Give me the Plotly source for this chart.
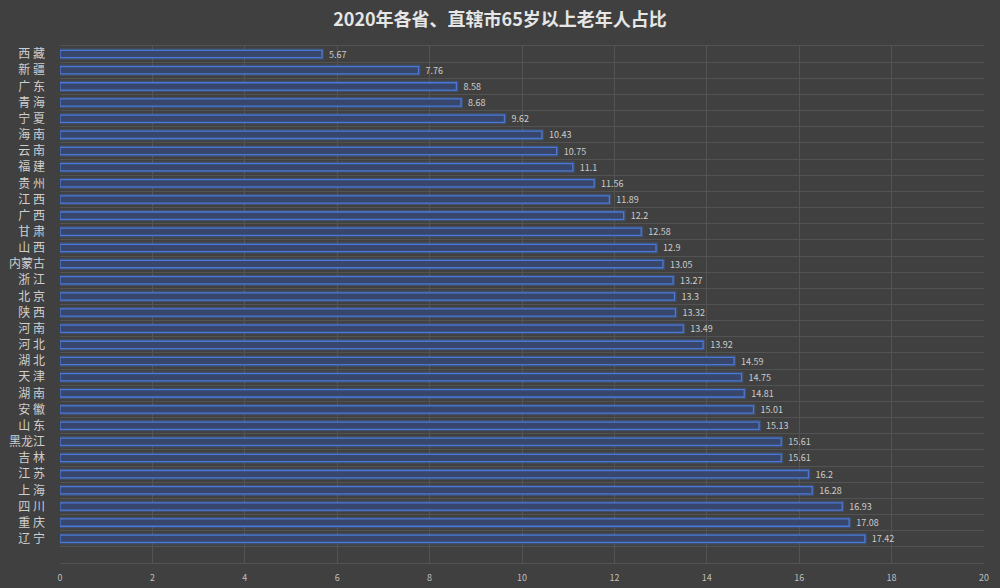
import plotly.graph_objects as go

provinces = [
    "西藏", "新疆", "广东", "青海", "宁夏", "海南", "云南", "福建", "贵州", "江西",
    "广西", "甘肃", "山西", "内蒙古", "浙江", "北京", "陕西", "河南", "河北", "湖北",
    "天津", "湖南", "安徽", "山东", "黑龙江", "吉林", "江苏", "上海", "四川", "重庆", "辽宁",
]
share_65plus = [
    5.67, 7.76, 8.58, 8.68, 9.62, 10.43, 10.75, 11.1, 11.56, 11.89,
    12.2, 12.58, 12.9, 13.05, 13.27, 13.3, 13.32, 13.49, 13.92, 14.59,
    14.75, 14.81, 15.01, 15.13, 15.61, 15.61, 16.2, 16.28, 16.93, 17.08, 17.42,
]
x_ticks = [0, 2, 4, 6, 8, 10, 12, 14, 16, 18, 20]

# two-character names are spread out like in the original
tick_text = [" ".join(p) if len(p) == 2 else p for p in provinces]

font = "Noto Sans CJK SC, Noto Sans, sans-serif"
grid = "#535353"

fig = go.Figure()
# soft glow behind the bars
fig.add_trace(
    go.Bar(
        x=share_65plus,
        y=provinces,
        orientation="h",
        width=0.45,
        marker=dict(color="rgba(0,0,0,0)", line=dict(color="rgba(70,115,210,0.3)", width=4)),
        hoverinfo="skip",
    )
)
fig.add_trace(
    go.Bar(
        x=share_65plus,
        y=provinces,
        orientation="h",
        width=0.45,
        marker=dict(color="#37466a", line=dict(color="#4a78d6", width=1.3)),
        text=share_65plus,
        texttemplate="\u00a0\u00a0%{x}",
        textposition="outside",
        constraintext="none",
        textfont=dict(size=9, color="#cccccc", family=font),
        cliponaxis=False,
        hoverinfo="x+y",
    )
)

fig.update_layout(
    width=1000,
    height=588,
    paper_bgcolor="#404040",
    plot_bgcolor="#404040",
    margin=dict(l=60, r=16, t=46, b=25),
    showlegend=False,
    barmode="overlay",
    title=dict(
        text="<b>2020年各省、直辖市65岁以上老年人占比</b>",
        x=0.5,
        xanchor="center",
        y=0.966,
        yanchor="middle",
        font=dict(size=18, color="#e6e6e6", family=font),
    ),
    font=dict(family=font),
)
fig.update_xaxes(
    range=[0, 20],
    tickvals=x_ticks,
    showgrid=True,
    gridcolor=grid,
    gridwidth=1,
    zeroline=False,
    showline=True,
    linecolor=grid,
    mirror=True,
    tickfont=dict(size=9, color="#bfbfbf"),
    ticklabelstandoff=6,
    automargin=False,
    fixedrange=True,
)
fig.update_yaxes(
    categoryorder="array",
    categoryarray=provinces,
    tickvals=provinces,
    ticktext=tick_text,
    range=[31.5, -0.5],
    tickson="boundaries",
    showgrid=True,
    gridcolor=grid,
    gridwidth=1,
    tickfont=dict(size=12, color="#cfcfcf"),
    ticklabelstandoff=14,
    automargin=False,
    fixedrange=True,
)

fig.write_html(
    "out.html",
    config={"displayModeBar": False},
    post_script="document.body.style.margin='0';document.body.style.background='#404040';",
)
